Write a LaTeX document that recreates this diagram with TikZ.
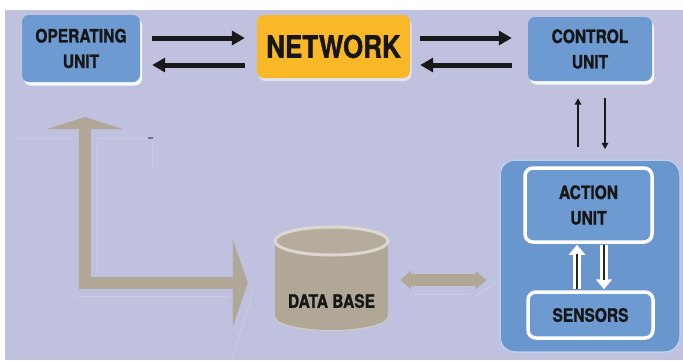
\documentclass[tikz,border=0pt]{standalone}
\usepackage{fontspec}
\setmainfont{TeX Gyre Heros}
\newfontfamily\cond[FakeStretch=0.84, BoldFeatures={FakeBold=1.2}]{TeX Gyre Heros}
\usetikzlibrary{arrows.meta,shadows,calc}
\definecolor{bgc}{HTML}{C0C0DF}
\definecolor{boxblue}{HTML}{6D9BD1}
\definecolor{outerblue}{HTML}{6A96CE}
\definecolor{netyel}{HTML}{F8B827}
\definecolor{tanc}{HTML}{B1A797}
\definecolor{tantop}{HTML}{B6AC9D}
\definecolor{txtc}{HTML}{161616}
\tikzset{
  lbl/.style={text=txtc, align=center, inner sep=0pt},
  unitbox/.style={rectangle, rounded corners=7pt, fill=boxblue, lbl,
    drop shadow={shadow xshift=2pt, shadow yshift=-3.5pt, fill=white, opacity=0.9}},
  netbox/.style={rectangle, rounded corners=7pt, fill=netyel, lbl,
    drop shadow={shadow xshift=1.5pt, shadow yshift=-3pt, fill=white, opacity=0.55}},
  innerbox/.style={rectangle, rounded corners=8pt, fill=boxblue, draw=white, line width=3.5pt, lbl},
  outerbox/.style={rectangle, rounded corners=15pt, fill=outerblue, draw=white!55!outerblue, line width=1.5pt},
  blk/.style={draw=black!90, line width=5pt, -{Triangle[width=14pt,length=13pt]}},
  thinblk/.style={draw=black!90, line width=1.8pt, -{Triangle[width=6.5pt,length=6.5pt]}},
  hollowout/.style={draw=white, line width=8.5pt, -{Triangle[width=16pt,length=10pt]}},
  hollowin/.style={draw=black!85, line width=2.2pt},
  tanarrow/.style={draw=tanc, line width=12pt, line join=miter},
  faintline/.style={draw=bgc!82!white, line width=0.9pt},
  f18/.style={font=\cond\bfseries\fontsize{18.5}{25.5}\selectfont},
  f30/.style={font=\cond\bfseries\fontsize{31}{31}\selectfont},
}
\begin{document}
\begin{tikzpicture}[x=1pt,y=-1pt]
\useasboundingbox (0,0) rectangle (683,360);
\fill[white] (0,0) rectangle (683,360);
\fill[bgc] (5,10) rectangle (683,360);

% faint shadow lines
\draw[faintline] (15,138) -- (73,138);
\draw[faintline] (97,138) -- (150,138);
\draw[draw=bgc!60!black, line width=1.5pt] (148,138) -- (153,138);
\draw[faintline] (152,139) -- (152,168);
\draw[faintline] (97,140) -- (97,272);
\draw[faintline] (77,296) -- (228,296);
\draw[faintline] (253,292) -- (232,358);
\draw[faintline] (415,294) -- (470,294);
\draw[faintline] (476,296) -- (496,282);

% top row
\node[unitbox, f18, minimum width=118pt, minimum height=67pt] (op) at (81,48.5) {OPERATING\\UNIT};
\node[netbox, f30, minimum width=153pt, minimum height=63pt] (net) at (333.5,46.5) {NETWORK};
\node[unitbox, f18, minimum width=124pt, minimum height=64pt] (ctrl) at (590,49) {CONTROL\\UNIT};

\draw[blk, shorten <=12pt, shorten >=12pt] (op.east |- 0,38) -- (net.west |- 0,38);
\draw[blk, shorten <=12pt, shorten >=12pt] (net.west |- 0,65) -- (op.east |- 0,65);
\draw[blk, shorten <=10pt, shorten >=16pt] (net.east |- 0,38) -- (ctrl.west |- 0,38);
\draw[blk, shorten <=16pt, shorten >=10pt] (ctrl.west |- 0,65) -- (net.east |- 0,65);

% action block
\node[outerbox, minimum width=180pt, minimum height=192pt] (act) at (590,256) {};
\draw[thinblk, shorten <=12pt, shorten >=17pt] (act.north -| 578,0) -- (ctrl.south -| 578,0);
\draw[thinblk, shorten <=17pt, shorten >=10pt] (ctrl.south -| 605,0) -- (act.north -| 605,0);

\node[innerbox, f18, minimum width=127pt, minimum height=74pt] (au) at (588.5,205) {ACTION\\UNIT};
\node[innerbox, f18, minimum width=125pt, minimum height=46pt] (sen) at (590.5,315) {SENSORS};

\draw[hollowout, shorten <=1pt, shorten >=1pt] (sen.north -| 577,0) -- (au.south -| 577,0);
\draw[hollowin, shorten <=1pt, shorten >=10pt] (sen.north -| 577,0) -- (au.south -| 577,0);
\draw[hollowout, shorten <=1pt, shorten >=1pt] (au.south -| 604,0) -- (sen.north -| 604,0);
\draw[hollowin, shorten <=1pt, shorten >=10pt] (au.south -| 604,0) -- (sen.north -| 604,0);

% database cylinder
\draw[draw=white!45!tanc, line width=2pt] (331.5,316) ellipse[x radius=56.5, y radius=14];
\fill[tanc] (331.5,316) ellipse[x radius=56.5, y radius=14];
\fill[tanc] (275,241) rectangle (388,316);
\draw[draw=white!55!tanc, line width=3pt, fill=tantop] (331.5,241) ellipse[x radius=56.5, y radius=14];
\node[minimum width=113pt, minimum height=103pt, inner sep=0pt] (db) at (331.5,278.5) {};
\node[lbl, f18] (dbt) at (331.5,301) {DATA BASE};

% tan arrows
\draw[tanarrow, {Triangle[width=18pt,length=11pt]}-{Triangle[width=18pt,length=11pt]}, shorten <=12pt, shorten >=13pt] (db.east |- 0,280) -- (act.west |- 0,280);
\coordinate (ltop) at (85,117);
\draw[tanarrow, {Triangle[width=75pt,length=12pt]}-{Triangle[width=87pt,length=15pt]}, shorten >=27pt] (ltop) |- (db.west |- 0,283);
\end{tikzpicture}
\end{document}
